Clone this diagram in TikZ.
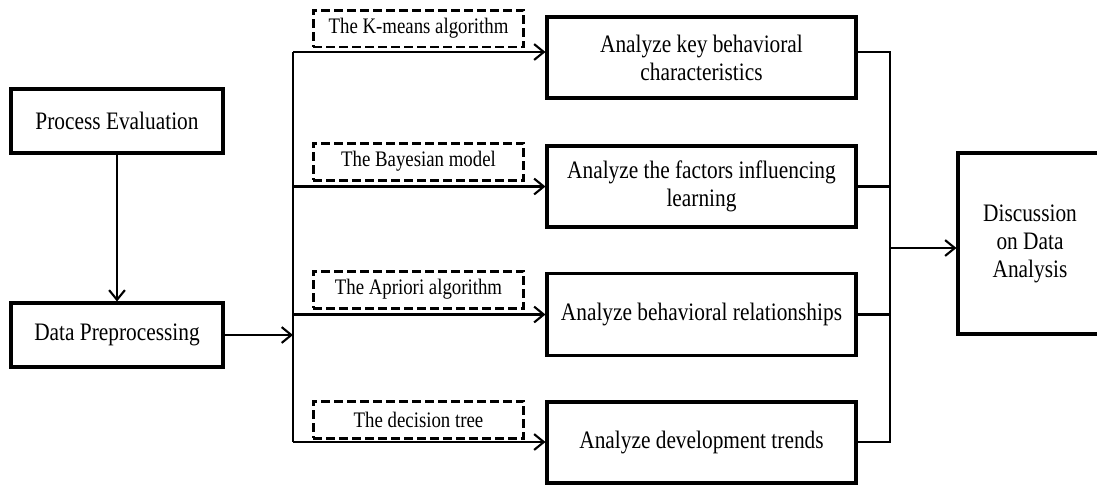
\documentclass[tikz,border=0pt]{standalone}
\usepackage{fontspec}
\setmainfont{Liberation Serif}[FakeStretch=0.85]
\usetikzlibrary{arrows.meta}

\begin{document}
\begin{tikzpicture}[x=0.02cm,y=-0.02cm]
    \useasboundingbox (0,0) rectangle (1097,485);
    \tikzset{
        StepBox/.style = {draw, line width=1.8pt, align=center, inner sep=0pt,
            font=\fontsize{14.3}{16}\selectfont},
        MethodBox/.style = {draw, line width=1.7pt, dash pattern=on 5pt off 2.4pt,
            inner sep=0pt, minimum width=4.22cm, minimum height=0.74cm,
            font=\fontsize{12.6}{15}\selectfont},
        Link/.style = {line width=1.2pt},
        LinkTo/.style = {Link, -{Straight Barb[length=5.5pt,width=9pt,line width=1.2pt]}}
    }
    % left column
    \node[StepBox, minimum width=4.24cm, minimum height=1.28cm] (pe) at (117,121) {Process Evaluation};
    \node[StepBox, minimum width=4.24cm, minimum height=1.28cm] (dp) at (117,335) {Data Preprocessing};
    % methods
    \node[MethodBox] (km) at (418.5,28.5) {The K-means algorithm};
    \node[MethodBox] (bm) at (418.5,161.5) {The Bayesian model};
    \node[MethodBox] (ap) at (418.5,289.5) {The Apriori algorithm};
    \node[MethodBox] (dt) at (418.5,419.5) {The decision tree};
    % analyses
    \node[StepBox, minimum width=6.18cm, minimum height=1.62cm] (ak) at (701.5,57.5) {Analyze key behavioral\\characteristics};
    \node[StepBox, minimum width=6.18cm, minimum height=1.62cm] (af) at (701.5,186.5) {Analyze the factors influencing\\learning};
    \node[StepBox, minimum width=6.18cm, minimum height=1.64cm] (ar) at (701.5,314.5) {Analyze behavioral relationships};
    \node[StepBox, minimum width=6.18cm, minimum height=1.62cm] (ad) at (701.5,442.5) {Analyze development trends};
    \node[StepBox, minimum width=2.88cm, minimum height=3.62cm] (dis) at (1030,243.5) {Discussion\\on Data\\Analysis};
    % connectors
    \coordinate (busTop) at (293,52);
    \coordinate (busBot) at (293,442);
    \coordinate (joinTop) at (890,52);
    \coordinate (joinBot) at (890,442);
    \coordinate (joinMid) at (890,248);
    \draw[LinkTo] (pe) -- (dp);
    \draw[LinkTo] (dp.east) -- (dp.east -| busTop);
    \draw[Link] (busTop) -- (busBot);
    \draw[LinkTo] (busTop) -- (busTop -| ak.west);
    \draw[LinkTo] (af.west -| busTop) -- (af.west);
    \draw[LinkTo] (ar.west -| busTop) -- (ar.west);
    \draw[LinkTo] (busBot) -- (busBot -| ad.west);
    \draw[Link] (joinTop -| ak.east) -- (joinTop) -- (joinBot) -- (joinBot -| ad.east);
    \draw[Link] (af.east) -- (af.east -| joinTop);
    \draw[Link] (ar.east) -- (ar.east -| joinTop);
    \draw[LinkTo] (joinMid) -- (joinMid -| dis.west);
\end{tikzpicture}
\end{document}
